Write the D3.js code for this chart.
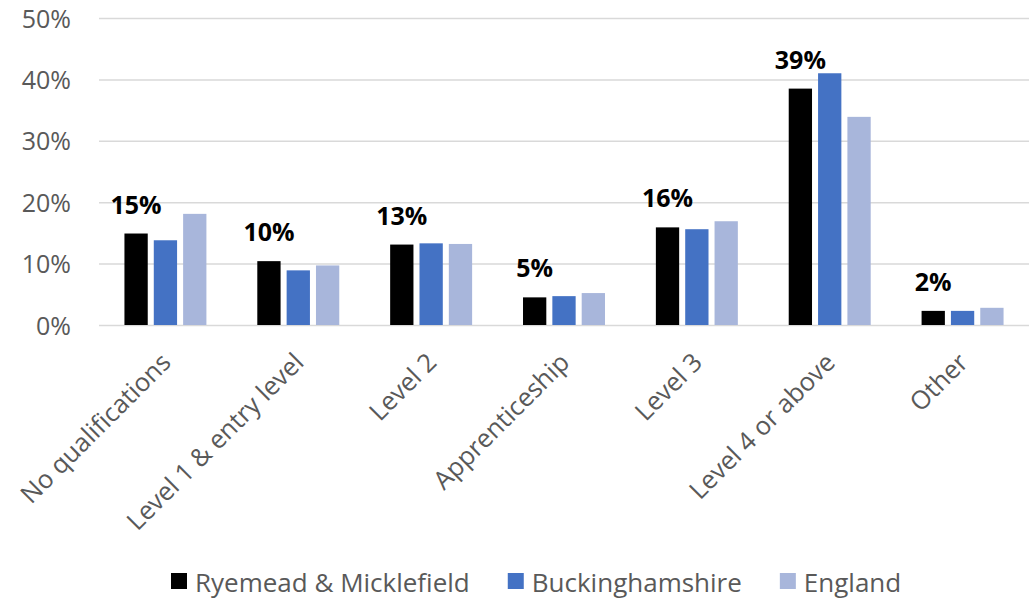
<!DOCTYPE html>
<html>
<head>
<meta charset="utf-8">
<script src="https://cdn.jsdelivr.net/npm/d3@7"></script>
<style>
  html, body { margin: 0; padding: 0; background: #ffffff; }
  svg { display: block; font-family: "Open Sans", "Noto Sans", sans-serif; }
</style>
</head>
<body>
<svg id="chart" width="1031" height="599"></svg>
<script>
// Highest qualification share by area
const categories = ["No qualifications", "Level 1 & entry level", "Level 2", "Apprenticeship", "Level 3", "Level 4 or above", "Other"];
const seriesNames = ["Ryemead & Micklefield", "Buckinghamshire", "England"];
const ryemead = [14.9, 10.4, 13.1, 4.5, 15.9, 38.5, 2.3];
const buckinghamshire = [13.8, 8.9, 13.3, 4.7, 15.6, 41.0, 2.3];
const england = [18.1, 9.7, 13.2, 5.2, 16.9, 33.9, 2.8];
const yTicks = [0, 10, 20, 30, 40, 50];
const seriesColors = ["#000000", "#4472C4", "#A8B6DB"];

const series = [ryemead, buckinghamshire, england];

const svg = d3.select("#chart");
const margin = { left: 99, right: 2, top: 18, bottom: 274 };
const W = 1031, H = 599;
const plotLeft = margin.left, plotRight = W - margin.right;
const plotTop = margin.top, plotBottom = H - margin.bottom;

const x0 = d3.scaleBand()
  .domain(categories)
  .range([plotLeft, plotRight])
  .paddingInner(0.383)
  .paddingOuter(0.1915);

const x1 = d3.scaleBand()
  .domain(d3.range(seriesNames.length))
  .range([0, x0.bandwidth()])
  .paddingInner(0.206)
  .paddingOuter(0);

const y = d3.scaleLinear().domain([0, 50]).range([plotBottom, plotTop]);

// Gridlines and y tick labels
const yAxis = d3.axisLeft(y)
  .tickValues(yTicks)
  .tickSize(-(plotRight - plotLeft))
  .tickPadding(28)
  .tickFormat(d => d + "%");

const gy = svg.append("g")
  .attr("transform", `translate(${plotLeft},0)`)
  .call(yAxis)
  .attr("font-family", null)
  .attr("font-size", null);
gy.select(".domain").remove();
gy.selectAll(".tick line").attr("stroke", "#D9D9D9").attr("stroke-width", 1.5);
gy.selectAll(".tick text")
  .attr("fill", "#595959")
  .style("font-size", "25px")
  .attr("dy", "0.36em");

// Bars
const groups = svg.append("g")
  .selectAll("g")
  .data(categories)
  .join("g")
  .attr("transform", d => `translate(${x0(d)},0)`);

groups.selectAll("rect")
  .data((d, i) => series.map((s, k) => ({ k, v: s[i] })))
  .join("rect")
  .attr("x", d => x1(d.k))
  .attr("width", x1.bandwidth())
  .attr("y", d => y(d.v))
  .attr("height", d => y(0) - y(d.v))
  .attr("fill", d => seriesColors[d.k]);

// Value labels over the local-area bars
svg.append("g")
  .selectAll("text")
  .data(categories)
  .join("text")
  .attr("x", (d, i) => x0(d) + x1(0) + x1.bandwidth() / 2)
  .attr("y", (d, i) => y(ryemead[i]) - 20)
  .attr("text-anchor", "middle")
  .attr("fill", "#000000")
  .style("font-size", "25px")
  .style("font-weight", "bold")
  .text((d, i) => Math.round(ryemead[i]) + "%");

// Category labels, rotated
const xAxis = d3.axisBottom(x0).tickSize(0).tickPadding(0);
const gx = svg.append("g")
  .attr("transform", `translate(0,${plotBottom})`)
  .call(xAxis)
  .attr("font-family", null)
  .attr("font-size", null);
gx.select(".domain").remove();
gx.selectAll(".tick text")
  .attr("fill", "#595959")
  .style("font-size", "25.5px")
  .attr("text-anchor", "end")
  .attr("dy", null)
  .attr("y", null)
  .attr("transform", "translate(7,39) rotate(-45)");

// Legend
const legend = svg.append("g").attr("transform", "translate(171,0)");
let lx = 0;
seriesNames.forEach((name, k) => {
  const item = legend.append("g").attr("transform", `translate(${lx},0)`);
  item.append("rect")
    .attr("x", 0).attr("y", 573)
    .attr("width", 16).attr("height", 16)
    .attr("fill", seriesColors[k]);
  const t = item.append("text")
    .attr("x", 24).attr("y", 592)
    .attr("fill", "#595959")
    .style("font-size", "26px")
    .text(name);
  lx += 24 + t.node().getComputedTextLength() + 38;
});
</script>
</body>
</html>
